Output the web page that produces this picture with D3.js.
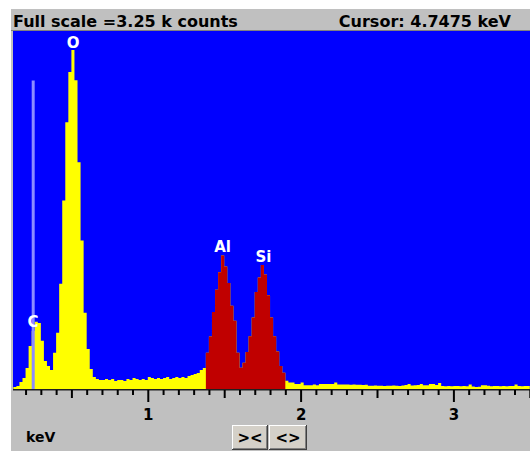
<!DOCTYPE html>
<html>
<head>
<meta charset="utf-8">
<script src="https://cdn.jsdelivr.net/npm/d3@7"></script>
<style>
  body { margin: 0; background: #ffffff; }
  svg { display: block; font-family: "DejaVu Sans", Verdana, sans-serif; font-weight: bold; }
</style>
</head>
<body>
<div id="chartContainer"></div>
<script>
// spectrum channels, 0.02 keV wide, first one starts at 0.12 keV
const binStart = 0.12;
const binWidth = 0.02;
const counts = [
  18, 27, 64, 100, 191, 391, 528, 610, 600, 437,
  255, 209, 173, 328, 510, 956, 1712, 2422, 2877, 3077,
  2804, 2058, 1347, 692, 364, 182, 109, 91, 82, 82,
  91, 82, 91, 73, 82, 82, 73, 91, 82, 100,
  91, 82, 91, 82, 109, 100, 91, 100, 91, 100,
  109, 91, 100, 109, 100, 109, 100, 118, 127, 137,
  146, 173, 191, 330, 476, 700, 900, 1060, 1211, 1113,
  962, 756, 619, 330, 194, 239, 337, 480, 650, 880,
  1013, 1126, 1040, 850, 650, 480, 340, 209, 148, 75,
  60, 60, 45, 45, 60, 35, 35, 35, 40, 35,
  45, 45, 45, 45, 45, 60, 40, 40, 40, 40,
  38, 40, 38, 38, 36, 38, 30, 30, 32, 30,
  30, 28, 30, 30, 32, 30, 28, 32, 36, 45,
  32, 34, 36, 45, 34, 34, 45, 45, 36, 55,
  27, 25, 27, 25, 27, 27, 25, 27, 25, 40,
  22, 18, 20, 34, 34, 30, 25, 27, 27, 25,
  27, 25, 27, 27, 40, 27, 25, 27, 27
];

// region of interest (red) in keV
const roi = [1.38, 1.90];

// element labels
const elements = ["C", "O", "Al", "Si"];
const elementKeV = [0.249, 0.512, 1.489, 1.757];
const elementCounts = [563, 3096, 1244, 1153];

const cursorKeV = 0.25;
const cursorCounts = 2800;
const fullScale = 3250;
const majorTicks = [1, 2, 3];
const halfTicks = [0.5, 1.5, 2.5, 3.5];
const headerLeft = "Full scale =3.25 k counts";
const headerRight = "Cursor: 4.7475 keV";
const unitLabel = "keV";
const buttons = ["><", "<>"];

const W = 530, H = 453;
const plot = { left: 13, top: 31, right: 530, bottom: 389 };

const svg = d3.select("#chartContainer").append("svg")
  .attr("width", W)
  .attr("height", H);

// panel
svg.append("rect")
  .attr("x", 11).attr("y", 9)
  .attr("width", W - 11).attr("height", 442)
  .attr("fill", "#c0c0c0");

svg.append("rect")
  .attr("x", plot.left).attr("y", plot.top)
  .attr("width", plot.right - plot.left).attr("height", plot.bottom - plot.top)
  .attr("fill", "#0000ff");

svg.append("line")
  .attr("x1", 11).attr("x2", W)
  .attr("y1", plot.top - 0.5).attr("y2", plot.top - 0.5)
  .attr("stroke", "#808080");

const xScale = d3.scaleLinear()
  .domain([0, 3.5])
  .range([-5, 529.8]);

const yScale = d3.scaleLinear()
  .domain([0, fullScale])
  .range([plot.bottom, plot.top]);

svg.append("defs").append("clipPath")
  .attr("id", "plotClip")
  .append("rect")
  .attr("x", plot.left).attr("y", plot.top)
  .attr("width", plot.right - plot.left).attr("height", plot.bottom - plot.top);

const bins = counts.map((c, i) => ({ e: binStart + i * binWidth, c: c }));
const stepData = bins.concat([{ e: binStart + counts.length * binWidth, c: counts[counts.length - 1] }]);

const area = d3.area()
  .curve(d3.curveStepAfter)
  .x(d => xScale(d.e))
  .y0(plot.bottom)
  .y1(d => yScale(d.c));

const g = svg.append("g").attr("clip-path", "url(#plotClip)");

g.append("path")
  .datum(stepData)
  .attr("d", area)
  .attr("fill", "#ffff00");

// roi part in red
const roiBins = bins.filter(d => d.e >= roi[0] - 1e-6 && d.e < roi[1] - 1e-6);
const roiData = roiBins.concat([{ e: roi[1], c: roiBins[roiBins.length - 1].c }]);

g.append("path")
  .datum(roiData)
  .attr("d", area)
  .attr("fill", "#c00000");

// cursor line
g.append("line")
  .attr("x1", xScale(cursorKeV)).attr("x2", xScale(cursorKeV))
  .attr("y1", yScale(cursorCounts)).attr("y2", plot.bottom)
  .attr("stroke", "#8c8cff")
  .attr("stroke-width", 3);

// element labels
g.selectAll(".elem")
  .data(elements)
  .enter().append("text")
  .attr("class", "elem")
  .attr("x", (d, i) => xScale(elementKeV[i]))
  .attr("y", (d, i) => yScale(elementCounts[i]))
  .attr("text-anchor", "middle")
  .attr("fill", "#ffffff")
  .style("font-size", "15px")
  .text(d => d);

// axis line
svg.append("rect")
  .attr("x", plot.left).attr("y", plot.bottom)
  .attr("width", plot.right - plot.left).attr("height", 1.5)
  .attr("fill", "#202020");

const minorTicks = d3.range(2, 36).map(d => d / 10)
  .filter(d => Math.abs(d * 2 - Math.round(d * 2)) > 1e-6);

function tickAxis(values, size) {
  const ax = svg.append("g")
    .attr("transform", `translate(0, ${plot.bottom + 1})`)
    .call(d3.axisBottom(xScale).tickValues(values).tickSize(size).tickFormat(""));
  ax.select(".domain").remove();
  ax.selectAll("line").attr("stroke", "#000").attr("stroke-width", 2);
  return ax;
}

tickAxis(minorTicks, 5);
tickAxis(halfTicks, 8);

const majorAxis = svg.append("g")
  .attr("transform", `translate(0, ${plot.bottom + 1})`)
  .call(d3.axisBottom(xScale).tickValues(majorTicks).tickSize(12).tickFormat(d3.format("d")));
majorAxis.select(".domain").remove();
majorAxis.selectAll("line").attr("stroke", "#000").attr("stroke-width", 2);
majorAxis.selectAll("text")
  .attr("y", 30).attr("dy", 0)
  .attr("fill", "#000")
  .style("font-size", "15px")
  .style("font-family", "DejaVu Sans, Verdana, sans-serif")
  .style("font-weight", "bold");

svg.append("text")
  .attr("x", 26).attr("y", 442)
  .style("font-size", "14px")
  .text(unitLabel);

// header texts
svg.append("text")
  .attr("x", 13).attr("y", 27)
  .style("font-size", "16px")
  .text(headerLeft);

svg.append("text")
  .attr("x", 511).attr("y", 27)
  .attr("text-anchor", "end")
  .style("font-size", "16px")
  .text(headerRight);

// zoom buttons
const btnX = [232, 269];
buttons.forEach((b, i) => {
  const bg = svg.append("g").attr("transform", `translate(${btnX[i]}, 425)`);
  const bw = i === 0 ? 36 : 38, bh = 25;
  bg.append("rect").attr("width", bw).attr("height", bh).attr("fill", "#404040");
  bg.append("rect").attr("width", bw - 1).attr("height", bh - 1).attr("fill", "#ffffff");
  bg.append("rect").attr("x", 1).attr("y", 1).attr("width", bw - 2).attr("height", bh - 2).attr("fill", "#808080");
  bg.append("rect").attr("x", 1).attr("y", 1).attr("width", bw - 3).attr("height", bh - 3).attr("fill", "#d4d0c8");
  bg.append("text")
    .attr("x", bw / 2).attr("y", 18)
    .attr("text-anchor", "middle")
    .style("font-size", "15px")
    .text(b);
});
</script>
</body>
</html>
